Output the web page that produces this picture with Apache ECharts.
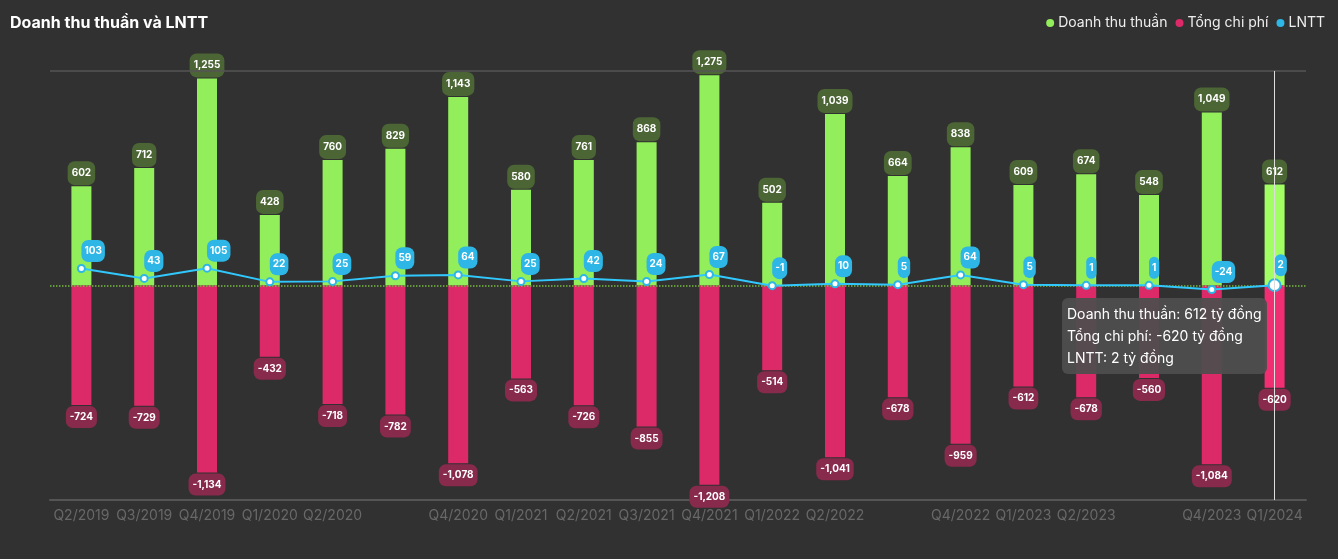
<!DOCTYPE html>
<html>
<head>
<meta charset="utf-8">
<script src="https://cdn.jsdelivr.net/npm/echarts@6/dist/echarts.min.js"></script>
<style>
html,body{margin:0;padding:0;background:#313131;}
#c{width:1338px;height:559px;}
</style>
</head>
<body>
<div id="c"></div>
<script>
const categories = ['Q2/2019','Q3/2019','Q4/2019','Q1/2020','Q2/2020','Q3/2020','Q4/2020','Q1/2021','Q2/2021','Q3/2021','Q4/2021','Q1/2022','Q2/2022','Q3/2022','Q4/2022','Q1/2023','Q2/2023','Q3/2023','Q4/2023','Q1/2024'];
const revenue = [602,712,1255,428,760,829,1143,580,761,868,1275,502,1039,664,838,609,674,548,1049,612];
const totalCost = [-724,-729,-1134,-432,-718,-782,-1078,-563,-726,-855,-1208,-514,-1041,-678,-959,-612,-678,-560,-1084,-620];
const profit = [103,43,105,22,25,59,64,25,42,24,67,-1,10,5,64,5,1,1,-24,2];
const hiddenLabels = ['Q3/2020','Q3/2022','Q3/2023'];

const FONT = 'Inter, "Noto Sans", sans-serif';
const chart = echarts.init(document.getElementById('c'));
const fmt = v => v.toLocaleString('en-US');
const showLabel = (i, v) => hiddenLabels.indexOf(v) < 0;

const option = {
  backgroundColor: '#313131',
  textStyle: { fontFamily: FONT },
  title: {
    text: 'Doanh thu thuần và LNTT',
    left: 5, top: 10,
    textStyle: { color: '#fff', fontSize: 16, fontWeight: 'bold', fontFamily: FONT }
  },
  legend: {
    right: 8, top: 11,
    icon: 'circle', itemWidth: 8, itemHeight: 8, itemGap: 8,
    textStyle: { color: '#eee', fontSize: 14, fontFamily: FONT, padding: [0, 0, 0, -1] },
    data: ['Doanh thu thuần', 'Tổng chi phí', 'LNTT']
  },
  tooltip: {
    trigger: 'axis',
    backgroundColor: 'rgba(78,78,78,0.95)',
    borderWidth: 0,
    padding: [5, 5],
    extraCssText: 'border-radius:6px;box-shadow:none;line-height:22px;',
    textStyle: { color: '#fff', fontSize: 14, fontFamily: FONT },
    axisPointer: { type: 'line', lineStyle: { color: '#ddd', width: 1, type: 'solid' } },
    formatter: ps => ps.map(p => p.seriesName + ': ' + fmt(p.value) + ' tỷ đồng').join('<br>'),
    position: function (point, params, dom, rect, size) {
      const idx = params[0].dataIndex;
      const px = chart.convertToPixel({ gridIndex: 0 }, [idx, 0]);
      return [px[0] - size.contentSize[0] - 8, px[1] + 12];
    }
  },
  grid: { left: 50, right: 32, top: 71, bottom: 59 },
  xAxis: {
    type: 'category',
    data: categories,
    axisLine: { onZero: false, lineStyle: { color: '#555', width: 2 } },
    axisTick: { alignWithLabel: true, interval: showLabel, length: 5, lineStyle: { color: '#555' } },
    axisLabel: { interval: showLabel, color: '#686868', fontSize: 14, margin: 9, fontFamily: FONT },
    splitLine: { show: false }
  },
  yAxis: {
    type: 'value',
    min: -1300, max: 1300, interval: 1300,
    show: true,
    axisLine: { show: false }, axisTick: { show: false }, axisLabel: { show: false },
    splitLine: { show: false }
  },
  series: [
    {
      name: 'Doanh thu thuần',
      type: 'bar', stack: 'a', barWidth: 20,
      data: revenue,
      itemStyle: { color: '#93ee5b' },
      label: {
        show: true, position: 'top', distance: 1,
        formatter: p => fmt(p.value),
        color: '#fff', fontSize: 10, fontWeight: 'bold', fontFamily: FONT,
        backgroundColor: '#4b6535', borderRadius: 7, padding: [7, 4]
      },
      markLine: {
        silent: true, symbol: 'none', label: { show: false },
        data: [
          { yAxis: 0, lineStyle: { color: '#76b83f', type: 'dotted', width: 1.5 } },
          { yAxis: 1300, lineStyle: { color: '#555', type: 'solid', width: 1.5 } }
        ]
      }
    },
    {
      name: 'Tổng chi phí',
      type: 'bar', stack: 'a', barWidth: 20,
      data: totalCost,
      itemStyle: { color: '#dc2a69' },
      label: {
        show: true, position: 'bottom', distance: 1,
        formatter: p => fmt(p.value),
        color: '#fff', fontSize: 10, fontWeight: 'bold', fontFamily: FONT,
        backgroundColor: '#872a4c', borderRadius: 7, padding: [6, 4]
      }
    },
    {
      name: 'LNTT',
      type: 'line',
      data: profit,
      symbol: 'emptyCircle', symbolSize: 7,
      lineStyle: { color: '#2db6e6', width: 2 },
      itemStyle: { color: '#2db6e6', borderWidth: 2 },
      emphasis: { scale: 1.7 },
      z: 5,
      label: {
        show: true, position: 'top', distance: 2, align: 'left',
        formatter: p => fmt(p.value),
        color: '#fff', fontSize: 10, fontWeight: 'bold', fontFamily: FONT,
        backgroundColor: '#2db6e6', borderRadius: 7, padding: [6, 3]
      }
    }
  ]
};
chart.setOption(option);
setTimeout(() => {
  chart.dispatchAction({ type: 'showTip', seriesIndex: 0, dataIndex: categories.length - 1 });
}, 300);
</script>
</body>
</html>
